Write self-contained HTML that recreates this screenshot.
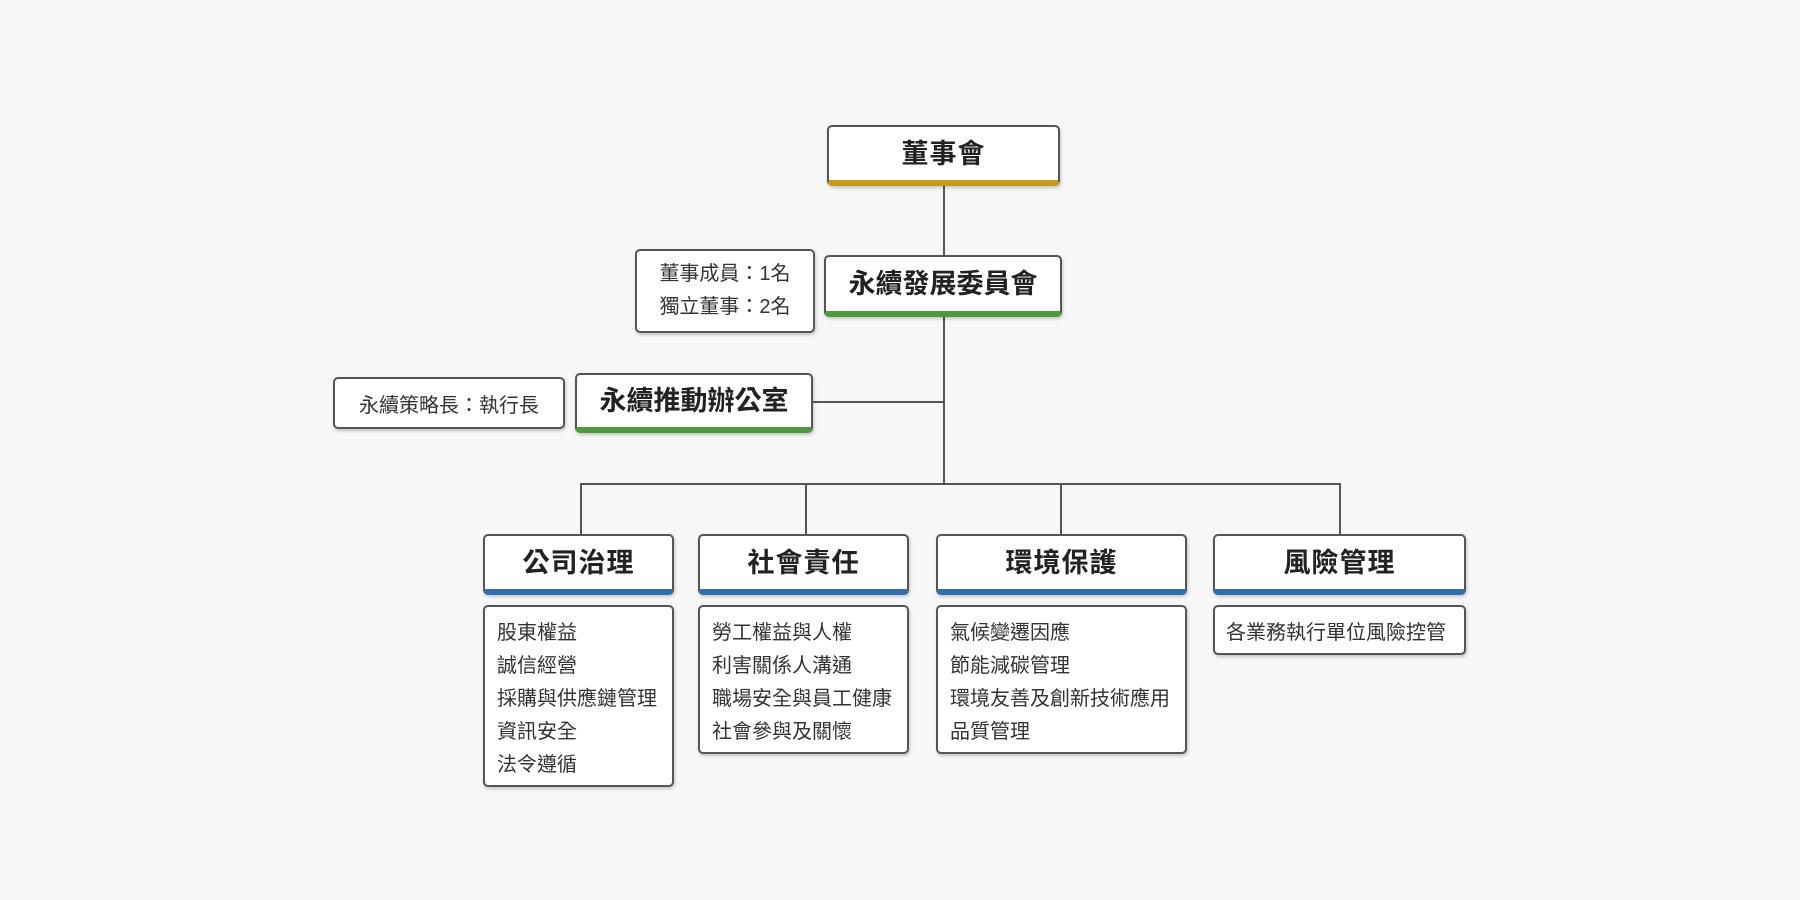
<!DOCTYPE html>
<html><head><meta charset="utf-8"><style>
body{margin:0;width:1800px;height:900px;background:#f7f7f7;position:relative;overflow:hidden;font-family:"Liberation Sans","Noto Sans CJK TC",sans-serif;color:#222}
.b{position:absolute;box-sizing:border-box;background:#fff;border:2px solid #555;border-radius:5px;box-shadow:1px 2px 3px rgba(0,0,0,.2)}
.t{display:flex;align-items:center;justify-content:center;font-weight:bold;font-size:27px;letter-spacing:1px;padding-bottom:5px}
.g{border-bottom:6px solid #c49a1c}.gr{border-bottom:6px solid #4e9a3e}.bl{border-bottom:6px solid #2f6fae}
.l{position:absolute;background:#555}
.d{font-size:20px;line-height:33px;padding:10px 0 0 12px;color:#333}
.i{font-size:20px;color:#333;display:flex;align-items:center;justify-content:center;text-align:left}
</style></head><body>
<div class="l" style="left:943px;top:185px;width:2px;height:300px"></div>
<div class="l" style="left:813px;top:401px;width:131px;height:2px"></div>
<div class="l" style="left:580px;top:483px;width:761px;height:2px"></div>
<div class="l" style="left:580px;top:483px;width:2px;height:52px"></div>
<div class="l" style="left:805px;top:483px;width:2px;height:52px"></div>
<div class="l" style="left:1060px;top:483px;width:2px;height:52px"></div>
<div class="l" style="left:1339px;top:483px;width:2px;height:52px"></div>

<div class="b t g" style="left:827px;top:125px;width:233px;height:61px">董事會</div>
<div class="b t gr" style="left:824px;top:255px;width:238px;height:62px;letter-spacing:0">永續發展委員會</div>
<div class="b i" style="left:635px;top:249px;width:180px;height:84px;line-height:33px">董事成員：1名<br>獨立董事：2名</div>
<div class="b t gr" style="left:575px;top:373px;width:238px;height:60px;letter-spacing:0">永續推動辦公室</div>
<div class="b i" style="left:333px;top:377px;width:232px;height:52px">永續策略長：執行長</div>

<div class="b t bl" style="left:483px;top:534px;width:191px;height:61px">公司治理</div>
<div class="b t bl" style="left:698px;top:534px;width:211px;height:61px">社會責任</div>
<div class="b t bl" style="left:936px;top:534px;width:251px;height:61px">環境保護</div>
<div class="b t bl" style="left:1213px;top:534px;width:253px;height:61px">風險管理</div>

<div class="b d" style="left:483px;top:605px;width:191px;height:182px">股東權益<br>誠信經營<br>採購與供應鏈管理<br>資訊安全<br>法令遵循</div>
<div class="b d" style="left:698px;top:605px;width:211px;height:149px">勞工權益與人權<br>利害關係人溝通<br>職場安全與員工健康<br>社會參與及關懷</div>
<div class="b d" style="left:936px;top:605px;width:251px;height:149px">氣候變遷因應<br>節能減碳管理<br>環境友善及創新技術應用<br>品質管理</div>
<div class="b d" style="left:1213px;top:605px;width:253px;height:50px;padding-left:11px">各業務執行單位風險控管</div>
</body></html>
